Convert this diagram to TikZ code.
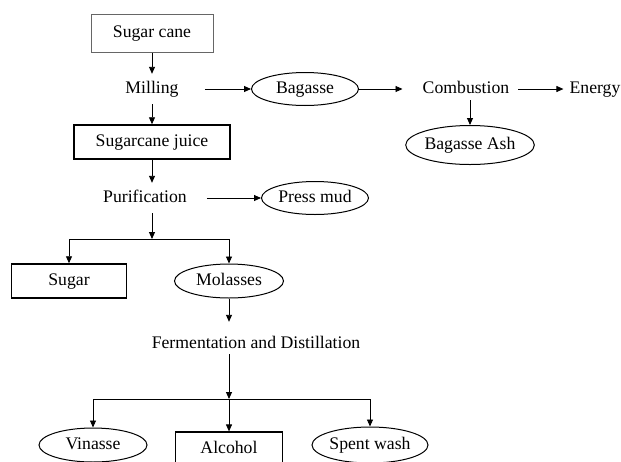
\documentclass[tikz,border=0pt]{standalone}
\usepackage{fontspec}
\setmainfont{Liberation Serif}
\usetikzlibrary{shapes.geometric,arrows.meta,positioning}

\begin{document}
\begin{tikzpicture}[
    x=1pt, y=-1pt,
    font=\fontsize{17.7}{20}\selectfont,
    every node/.style={text height=12pt, text depth=4pt},
    stagenode/.style={inner xsep=4pt, inner ysep=0pt, minimum height=30pt},
    boxnode/.style={draw, line width=1.5pt, inner sep=0pt, minimum height=34pt},
    ovalnode/.style={draw, ellipse, line width=1pt, inner sep=0pt, minimum height=34pt},
    arr/.style={-{Triangle[length=7pt,width=6pt]}, line width=0.9pt}
]
% Canvas
\clip (0,0) rectangle (621,461);
\fill[white] (0,0) rectangle (621,461);
% Main line
\node[boxnode, draw=black!60, line width=1pt, minimum width=122pt, minimum height=38pt] (cane) at (152,33) {Sugar cane};
\node[stagenode] (milling) at (152,89) {Milling};
\node[boxnode, minimum width=156pt] (juice) at (152,142) {Sugarcane juice};
\node[stagenode] (purif) at (145,198) {Purification};
% Bagasse branch
\node[ovalnode, minimum width=107pt, minimum height=33pt] (bagasse) at (305,89) {Bagasse};
\node[stagenode] (combust) at (466,89) {Combustion};
\node[stagenode] (energy) at (595,89) {Energy};
\node[ovalnode, minimum width=117pt, minimum height=39pt] (ash) at (470,145) {Bagasse Ash};
\node[ovalnode, minimum width=107pt, minimum height=33pt] (pressmud) at (315,198) {Press mud};
% Sugar and molasses
\coordinate (split1) at (152,239);
\node[boxnode, minimum width=115pt] (sugar) at (69,281) {Sugar};
\node[ovalnode, minimum width=109pt] (molasses) at (229,281) {Molasses};
\node[stagenode] (ferment) at (256,344) {Fermentation and Distillation};
% Products
\coordinate (split2) at (229,399);
\node[ovalnode, minimum width=108pt] (vinasse) at (93,445) {Vinasse};
\node[boxnode, line width=1.2pt, minimum width=107pt] (alcohol) at (229,449) {Alcohol};
\node[ovalnode, minimum width=116pt, minimum height=36pt] (spent) at (370,445) {Spent wash};
% Arrows
\draw[arr] (cane) -- (milling);
\draw[arr] (milling) -- (juice);
\draw[arr] (juice.south) -- (juice.south |- purif.north);
\draw[arr, shorten <=22pt] (milling) -- (bagasse);
\draw[arr, shorten >=16pt] (bagasse) -- (combust);
\draw[arr, shorten <=5pt, shorten >=2pt] (combust) -- (energy);
\draw[arr, shorten <=-4pt] (combust.south -| ash) -- (ash);
\draw[arr, shorten <=16pt] (purif.east) -- (pressmud);
\draw[arr] (split1 |- purif.south) -- (split1);
\draw[arr] (split1) -| (sugar.north);
\draw[arr] (split1) -| (molasses.north);
\draw[arr, shorten >=7pt] (molasses) -- (molasses |- ferment.north);
\draw[arr, shorten <=-5pt] (molasses |- ferment.south) -- (split2);
\foreach \n in {vinasse, alcohol, spent}
    \draw[arr] (split2) -| (\n.north);
\end{tikzpicture}
\end{document}
